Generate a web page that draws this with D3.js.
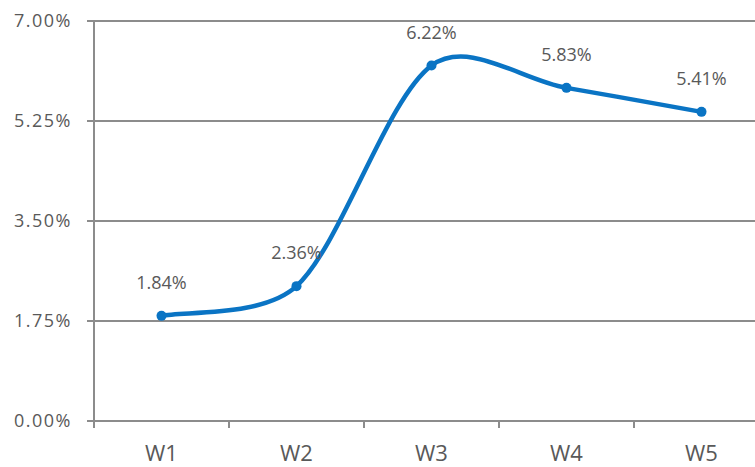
<!DOCTYPE html>
<html>
<head>
<meta charset="utf-8">
<script src="https://cdn.jsdelivr.net/npm/d3@7"></script>
<style>
  body { margin: 0; background: #fff; }
  svg text { font-family: "Open Sans", "Noto Sans", sans-serif; fill: #595959; }
</style>
</head>
<body>
<div id="chart"></div>
<script>
// data
const weeks = ["W1", "W2", "W3", "W4", "W5"];
const rates = [1.84, 2.36, 6.22, 5.83, 5.41];
const yTicks = [0, 1.75, 3.5, 5.25, 7];

const width = 755, height = 467;
const margin = {top: 21, left: 94};
const plotW = 675, plotH = 400;

// spreadsheet-style smoothing: cardinal tangents (1/6), with each control
// point kept within a third of its segment length
function SmoothCurve(context) { this._context = context; }
SmoothCurve.prototype = {
    areaStart() {}, areaEnd() {},
    lineStart() { this._pts = []; },
    point(x, y) { this._pts.push([+x, +y]); },
    lineEnd() {
        const p = this._pts, c = this._context, n = p.length;
        if (!n) return;
        c.moveTo(p[0][0], p[0][1]);
        const dist = (a, b) => Math.hypot(b[0] - a[0], b[1] - a[1]);
        for (let i = 0; i < n - 1; i++) {
            const p0 = p[Math.max(i - 1, 0)], p1 = p[i], p2 = p[i + 1], p3 = p[Math.min(i + 2, n - 1)];
            const cap = dist(p1, p2) / 3;
            let t1 = [(p2[0] - p0[0]) / 6, (p2[1] - p0[1]) / 6];
            let t2 = [(p3[0] - p1[0]) / 6, (p3[1] - p1[1]) / 6];
            const l1 = Math.hypot(t1[0], t1[1]), l2 = Math.hypot(t2[0], t2[1]);
            if (l1 > cap) t1 = [t1[0] * cap / l1, t1[1] * cap / l1];
            if (l2 > cap) t2 = [t2[0] * cap / l2, t2[1] * cap / l2];
            c.bezierCurveTo(p1[0] + t1[0], p1[1] + t1[1], p2[0] - t2[0], p2[1] - t2[1], p2[0], p2[1]);
        }
    }
};
const smoothCurve = ctx => new SmoothCurve(ctx);

const svg = d3.select("#chart").append("svg")
    .attr("width", width)
    .attr("height", height);

const g = svg.append("g")
    .attr("transform", "translate(" + margin.left + "," + margin.top + ")");

const x = d3.scaleBand().domain(weeks).range([0, plotW]);
const y = d3.scaleLinear().domain([0, 7]).range([plotH, 0]);

// horizontal gridlines
g.selectAll(".grid")
    .data(yTicks)
    .enter().append("line")
    .attr("x1", -7).attr("x2", plotW)
    .attr("y1", d => y(d)).attr("y2", d => y(d))
    .attr("stroke", "#8c8c8c")
    .attr("stroke-width", 2);

// y axis line
g.append("line")
    .attr("x1", 0).attr("x2", 0)
    .attr("y1", 0).attr("y2", plotH + 7)
    .attr("stroke", "#8c8c8c")
    .attr("stroke-width", 2);

// y labels
g.selectAll(".ylab")
    .data(yTicks)
    .enter().append("text")
    .attr("x", -22)
    .attr("y", d => y(d))
    .attr("dy", "0.35em")
    .attr("text-anchor", "end")
    .style("font-size", "18px")
    .style("letter-spacing", "1.5px")
    .text(d => d.toFixed(2) + "%");

// x axis ticks between categories
const bounds = weeks.slice(1).map(w => x(w));
g.selectAll(".xtick")
    .data(bounds)
    .enter().append("line")
    .attr("x1", d => d).attr("x2", d => d)
    .attr("y1", plotH).attr("y2", plotH + 7)
    .attr("stroke", "#8c8c8c")
    .attr("stroke-width", 2);

// x labels
g.selectAll(".xlab")
    .data(weeks)
    .enter().append("text")
    .attr("x", d => x(d) + x.bandwidth() / 2)
    .attr("y", plotH + 40)
    .attr("text-anchor", "middle")
    .style("font-size", "22px")
    .text(d => d);

const pts = weeks.map((w, i) => ({w: w, v: rates[i]}));

const line = d3.line()
    .x(d => x(d.w) + x.bandwidth() / 2)
    .y(d => y(d.v))
    .curve(smoothCurve);

g.append("path")
    .datum(pts)
    .attr("fill", "none")
    .attr("stroke", "#0a74c4")
    .attr("stroke-width", 4.5)
    .attr("d", line);

g.selectAll(".dot")
    .data(pts)
    .enter().append("circle")
    .attr("cx", d => x(d.w) + x.bandwidth() / 2)
    .attr("cy", d => y(d.v))
    .attr("r", 5)
    .attr("fill", "#0a74c4");

g.selectAll(".dlab")
    .data(pts)
    .enter().append("text")
    .attr("x", d => x(d.w) + x.bandwidth() / 2)
    .attr("y", d => y(d.v) - 27)
    .attr("text-anchor", "middle")
    .style("font-size", "18px")
    .text(d => d.v.toFixed(2) + "%");
</script>
</body>
</html>
